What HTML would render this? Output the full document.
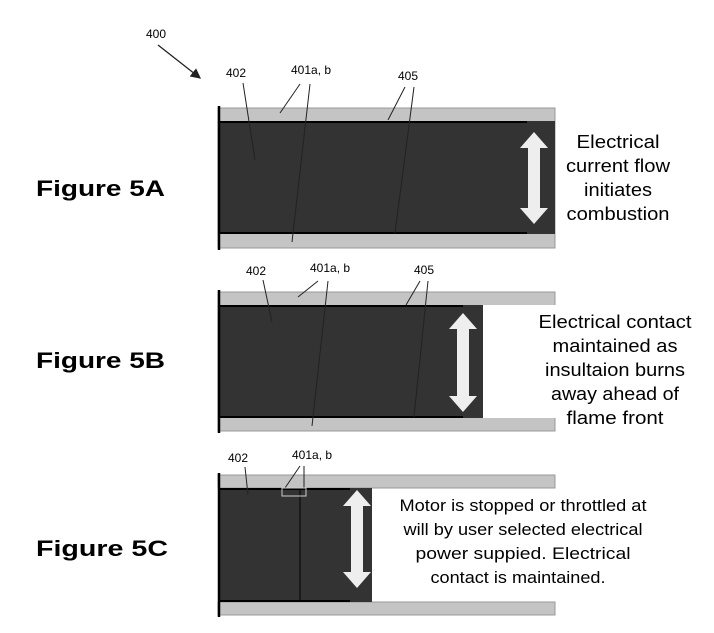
<!DOCTYPE html>
<html><head><style>
body{margin:0;background:#fff;width:714px;height:633px;overflow:hidden}
svg{position:absolute;left:0;top:0}
text{font-family:"Liberation Sans",sans-serif}
</style></head><body>
<svg width="714" height="633" viewBox="0 0 714 633">
<defs><marker id="ah" markerWidth="8" markerHeight="8" refX="7" refY="4" orient="auto"><path d="M0,0 L8,4 L0,8 z" fill="#222"/></marker></defs>
<text x="146" y="38" font-size="12">400</text>
<line x1="158" y1="45" x2="200" y2="78" stroke="#222" stroke-width="1.3" marker-end="url(#ah)"/>

<!-- 5A -->
<text x="36" y="196" font-size="22" font-weight="bold" textLength="129" lengthAdjust="spacingAndGlyphs">Figure 5A</text>
<rect x="218" y="108" width="337" height="140" fill="#c4c4c4" stroke="#999"/>
<rect x="218" y="121" width="337" height="113" fill="#333"/>
<line x1="218" y1="122" x2="527" y2="122" stroke="#000" stroke-width="2"/>
<line x1="218" y1="233" x2="527" y2="233" stroke="#000" stroke-width="2"/>
<line x1="219" y1="106" x2="219" y2="250" stroke="#000" stroke-width="2.5"/>
<polygon points="534,132 548,148 540,148 540,208 548,208 534,224 520,208 528,208 528,148 520,148" fill="#eee"/>
<text x="226" y="77" font-size="12">402</text>
<text x="291" y="74" font-size="12">401a, b</text>
<text x="398" y="80" font-size="12">405</text>
<g stroke="#222" stroke-width="1" fill="none">
<line x1="243" y1="83" x2="255" y2="160"/>
<line x1="300" y1="84" x2="280" y2="113"/>
<line x1="310" y1="84" x2="292" y2="242"/>
<line x1="405" y1="87" x2="388" y2="120"/>
<line x1="414" y1="87" x2="395" y2="233"/>
</g>
<g font-size="18" text-anchor="middle">
<text x="618" y="148" textLength="83" lengthAdjust="spacingAndGlyphs">Electrical</text>
<text x="618" y="172" textLength="104" lengthAdjust="spacingAndGlyphs">current flow</text>
<text x="618" y="196" textLength="68" lengthAdjust="spacingAndGlyphs">initiates</text>
<text x="618" y="220" textLength="103" lengthAdjust="spacingAndGlyphs">combustion</text>
</g>

<!-- 5B -->
<text x="36" y="368" font-size="22" font-weight="bold" textLength="129" lengthAdjust="spacingAndGlyphs">Figure 5B</text>
<rect x="218" y="292" width="337" height="139" fill="#c4c4c4" stroke="#999"/>
<rect x="218" y="305" width="265" height="113" fill="#333"/>
<rect x="483" y="305" width="73" height="113" fill="#fff"/>
<line x1="218" y1="306" x2="463" y2="306" stroke="#000" stroke-width="2"/>
<line x1="218" y1="417" x2="463" y2="417" stroke="#000" stroke-width="2"/>
<line x1="219" y1="290" x2="219" y2="433" stroke="#000" stroke-width="2.5"/>
<polygon points="463,313 477,329 469,329 469,396 477,396 463,412 449,396 457,396 457,329 449,329" fill="#eee"/>
<text x="246" y="275" font-size="12">402</text>
<text x="310" y="272" font-size="12">401a, b</text>
<text x="414" y="274" font-size="12">405</text>
<g stroke="#222" stroke-width="1">
<line x1="263" y1="280" x2="272" y2="322"/>
<line x1="318" y1="281" x2="298" y2="297"/>
<line x1="328" y1="281" x2="312" y2="426"/>
<line x1="420" y1="281" x2="406" y2="305"/>
<line x1="428" y1="281" x2="414" y2="417"/>
</g>
<g font-size="18" text-anchor="middle">
<text x="615" y="328" textLength="153" lengthAdjust="spacingAndGlyphs">Electrical contact</text>
<text x="615" y="352" textLength="125" lengthAdjust="spacingAndGlyphs">maintained as</text>
<text x="615" y="376" textLength="140" lengthAdjust="spacingAndGlyphs">insultaion burns</text>
<text x="615" y="400" textLength="128" lengthAdjust="spacingAndGlyphs">away ahead of</text>
<text x="615" y="424" textLength="97" lengthAdjust="spacingAndGlyphs">flame front</text>
</g>

<!-- 5C -->
<text x="36" y="556" font-size="22" font-weight="bold" textLength="132" lengthAdjust="spacingAndGlyphs">Figure 5C</text>
<rect x="218" y="475" width="337" height="13" fill="#c4c4c4" stroke="#999"/>
<rect x="218" y="602" width="337" height="13" fill="#c4c4c4" stroke="#999"/>
<rect x="218" y="488" width="154" height="114" fill="#333"/>
<line x1="218" y1="489" x2="350" y2="489" stroke="#000" stroke-width="2"/>
<line x1="218" y1="601" x2="350" y2="601" stroke="#000" stroke-width="2"/>
<line x1="300" y1="489" x2="300" y2="601" stroke="#000" stroke-width="1"/>
<line x1="219" y1="473" x2="219" y2="617" stroke="#000" stroke-width="2.5"/>
<polygon points="357,490 371,506 363,506 363,572 371,572 357,588 343,572 351,572 351,506 343,506" fill="#eee"/>
<text x="228" y="462" font-size="12">402</text>
<text x="292" y="459" font-size="12">401a, b</text>
<g stroke="#222" stroke-width="1" fill="none">
<line x1="245" y1="467" x2="248" y2="495"/>
<line x1="300" y1="466" x2="285" y2="488"/>
<line x1="304" y1="466" x2="304" y2="488"/>
<rect x="282" y="488" width="24" height="8" stroke="#ccc"/>
</g>
<g font-size="17" text-anchor="middle">
<text x="523" y="511" textLength="247" lengthAdjust="spacingAndGlyphs">Motor is stopped or throttled at</text>
<text x="523" y="535" textLength="239" lengthAdjust="spacingAndGlyphs">will by user selected electrical</text>
<text x="523" y="559" textLength="215" lengthAdjust="spacingAndGlyphs">power suppied.  Electrical</text>
<text x="518" y="583" textLength="175" lengthAdjust="spacingAndGlyphs">contact is maintained.</text>
</g>
</svg>
</body></html>
